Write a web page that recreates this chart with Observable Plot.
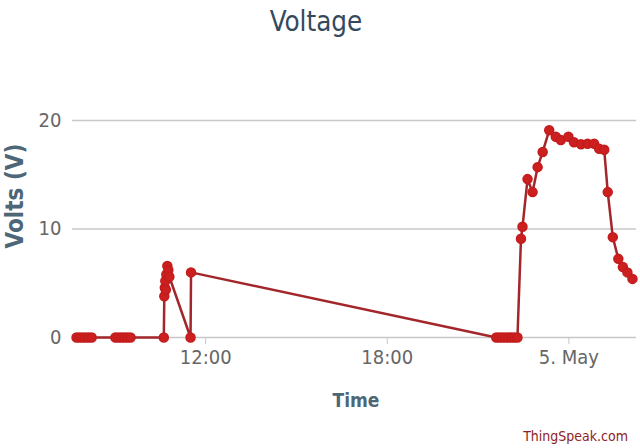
<!DOCTYPE html>
<html><head><meta charset="utf-8">
<script src="https://cdn.jsdelivr.net/npm/d3@7"></script>
<script src="https://cdn.jsdelivr.net/npm/@observablehq/plot@0.6"></script>
<style>
body{margin:0;background:#fff;}
#wrap{position:relative;width:640px;height:448px;font-family:"Liberation Sans Narrow","DejaVu Sans Condensed",sans-serif;}
#wrap svg{position:absolute;left:0;top:0;}
.lbl{position:absolute;white-space:nowrap;line-height:1;}
#title{left:0;width:632px;top:8px;text-align:center;font-size:27.5px;color:#34495e;}
#credit{right:12px;top:429px;font-size:14px;color:#8e2424;}
#xlab{left:356px;top:391px;transform:translateX(-50%);font-size:19px;font-weight:bold;color:#4d6678;}
#ylab{left:15px;top:196px;transform:translate(-50%,-50%) rotate(-90deg);font-size:24px;font-weight:bold;color:#4d6678;}
</style></head><body>
<div id="wrap"></div>
<script>
const times = [
  "2015-05-04T07:44","2015-05-04T07:50","2015-05-04T07:56","2015-05-04T08:02","2015-05-04T08:08","2015-05-04T08:14",
  "2015-05-04T09:01","2015-05-04T09:07","2015-05-04T09:13","2015-05-04T09:19","2015-05-04T09:25","2015-05-04T09:31",
  "2015-05-04T10:37","2015-05-04T10:38","2015-05-04T10:39","2015-05-04T10:40","2015-05-04T10:41","2015-05-04T10:42",
  "2015-05-04T10:44","2015-05-04T10:46","2015-05-04T10:48",
  "2015-05-04T11:30","2015-05-04T11:31",
  "2015-05-04T21:36","2015-05-04T21:42","2015-05-04T21:48","2015-05-04T21:54","2015-05-04T22:00","2015-05-04T22:06",
  "2015-05-04T22:12","2015-05-04T22:18",
  "2015-05-04T22:25","2015-05-04T22:28","2015-05-04T22:38","2015-05-04T22:48","2015-05-04T22:58","2015-05-04T23:08",
  "2015-05-04T23:21","2015-05-04T23:34","2015-05-04T23:44","2015-05-04T23:59",
  "2015-05-05T00:10","2015-05-05T00:24","2015-05-05T00:37","2015-05-05T00:50","2015-05-05T01:00","2015-05-05T01:10",
  "2015-05-05T01:17","2015-05-05T01:27","2015-05-05T01:38","2015-05-05T01:47","2015-05-05T01:56","2015-05-05T02:06"
];
const volts = [
  0,0,0,0,0,0,
  0,0,0,0,0,0,
  0,3.8,4.6,5.2,4.4,5.8,
  6.6,6.2,5.6,
  0,6.0,
  0,0,0,0,0,0,
  0,0,
  9.1,10.2,14.6,13.4,15.7,17.1,
  19.1,18.5,18.2,18.5,
  18.0,17.8,17.85,17.85,17.4,17.3,
  13.4,9.25,7.25,6.5,6.0,5.4
];
const xDomain = ["2015-05-04T07:36","2015-05-05T02:14"];
const xTicks = ["2015-05-04T12:00","2015-05-04T18:00","2015-05-05T00:00"];
const xTickLabels = ["12:00","18:00","5. May"];
const yTicks = [0,10,20];
const yDomain = [0,20];

const font = '"Liberation Sans Narrow","DejaVu Sans Condensed",sans-serif';
const data = times.map((t,i)=>({t:new Date(t), v:volts[i]}));
const xTickDates = xTicks.map(d=>new Date(d));
const fmt = d => xTickLabels[xTickDates.findIndex(x=>+x===+d)];

const chart = Plot.plot({
  width:640, height:448,
  marginLeft:72, marginRight:4, marginTop:120, marginBottom:111,
  style:{fontFamily:font, fontSize:"20px", color:"#666", background:"transparent", overflow:"visible"},
  x:{type:"time", domain:xDomain.map(d=>new Date(d)), label:null},
  y:{domain:yDomain, label:null},
  marks:[
    Plot.gridY(yTicks.filter(d=>d>0), {stroke:"#c8c8c8", strokeOpacity:1, strokeWidth:1.5}),
    Plot.ruleY([0], {stroke:"#c8c8c8", strokeWidth:1.5}),
    Plot.axisX(xTickDates, {tickSize:7, tickPadding:5, stroke:"#c8c8c8", tickFormat:fmt, fill:"#666", fontSize:20, label:null}),
    Plot.axisY(yTicks, {tickSize:0, tickPadding:11, fill:"#666", fontSize:20, label:null}),
    Plot.line(data, {x:"t", y:"v", stroke:"#a3262a", strokeWidth:2.5}),
    Plot.dot(data, {x:"t", y:"v", r:4.5, fill:"#cc1f1f", stroke:"#c41c1c"})
  ]
});
const wrap = document.getElementById("wrap");
wrap.appendChild(chart);
const addLbl = (id, txt) => { const d=document.createElement("div"); d.id=id; d.className="lbl"; d.textContent=txt; wrap.appendChild(d); };
addLbl("title","Voltage");
addLbl("xlab","Time");
addLbl("ylab","Volts (V)");
addLbl("credit","ThingSpeak.com");
</script>
</body></html>
